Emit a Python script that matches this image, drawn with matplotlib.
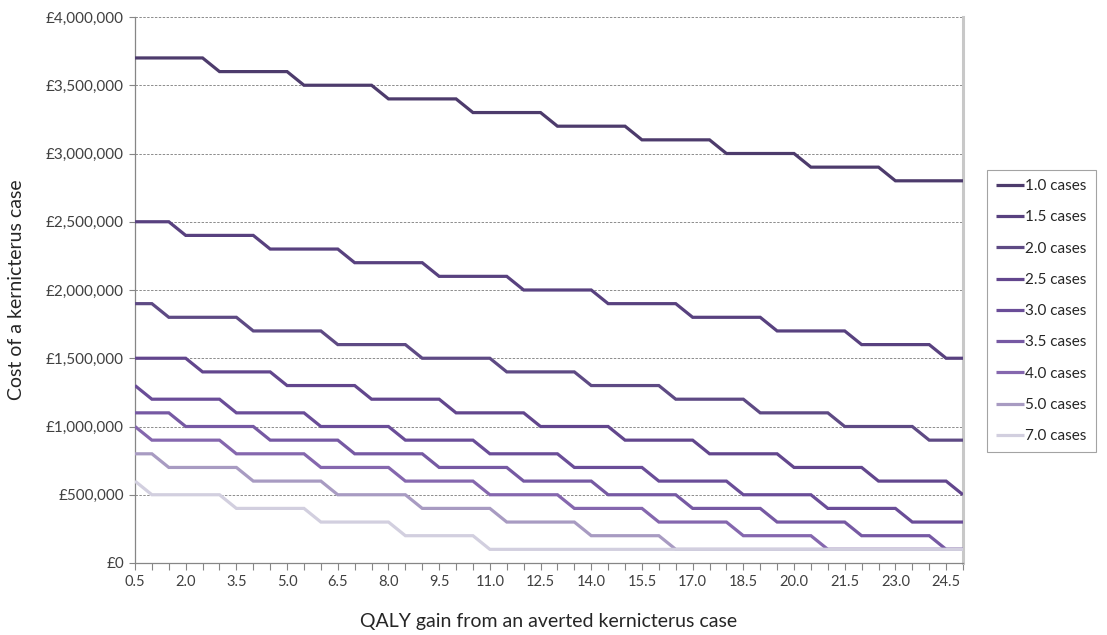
import matplotlib
matplotlib.use("Agg")
import matplotlib.pyplot as plt
from matplotlib.ticker import FuncFormatter, MultipleLocator

plt.rcParams["font.family"] = ["Lato", "DejaVu Sans"]

# QALY gain from an averted case (category axis)
qaly = [0.5 * k for k in range(1, 51)]

# Cost of a kernicterus case (GBP), one list per number of cases averted
cost_1_0 = [3700000] * 5 + [3600000] * 5 + [3500000] * 5 + [3400000] * 5 + [3300000] * 5 \
    + [3200000] * 5 + [3100000] * 5 + [3000000] * 5 + [2900000] * 5 + [2800000] * 5
cost_1_5 = [2500000] * 3 + [2400000] * 5 + [2300000] * 5 + [2200000] * 5 + [2100000] * 5 \
    + [2000000] * 5 + [1900000] * 5 + [1800000] * 5 + [1700000] * 5 + [1600000] * 5 + [1500000] * 2
cost_2_0 = [1900000] * 2 + [1800000] * 5 + [1700000] * 5 + [1600000] * 5 + [1500000] * 5 \
    + [1400000] * 5 + [1300000] * 5 + [1200000] * 5 + [1100000] * 5 + [1000000] * 5 + [900000] * 3
cost_2_5 = [1500000] * 4 + [1400000] * 5 + [1300000] * 5 + [1200000] * 5 + [1100000] * 5 \
    + [1000000] * 5 + [900000] * 5 + [800000] * 5 + [700000] * 5 + [600000] * 5 + [500000] * 1
cost_3_0 = [1300000] * 1 + [1200000] * 5 + [1100000] * 5 + [1000000] * 5 + [900000] * 5 \
    + [800000] * 5 + [700000] * 5 + [600000] * 5 + [500000] * 5 + [400000] * 5 + [300000] * 4
cost_3_5 = [1100000] * 3 + [1000000] * 5 + [900000] * 5 + [800000] * 5 + [700000] * 5 \
    + [600000] * 5 + [500000] * 5 + [400000] * 5 + [300000] * 5 + [200000] * 5 + [100000] * 2
cost_4_0 = [1000000] * 1 + [900000] * 5 + [800000] * 5 + [700000] * 5 + [600000] * 5 \
    + [500000] * 5 + [400000] * 5 + [300000] * 5 + [200000] * 5 + [100000] * 9
cost_5_0 = [800000] * 2 + [700000] * 5 + [600000] * 5 + [500000] * 5 + [400000] * 5 \
    + [300000] * 5 + [200000] * 5 + [100000] * 18
cost_7_0 = [600000] * 1 + [500000] * 5 + [400000] * 5 + [300000] * 5 + [200000] * 5 \
    + [100000] * 29

series_labels = ["1.0 cases", "1.5 cases", "2.0 cases", "2.5 cases", "3.0 cases",
                 "3.5 cases", "4.0 cases", "5.0 cases", "7.0 cases"]
series_values = [cost_1_0, cost_1_5, cost_2_0, cost_2_5, cost_3_0,
                 cost_3_5, cost_4_0, cost_5_0, cost_7_0]
series_colors = ["#4d3b6c", "#58417f", "#5e4a84", "#62468d", "#6a4d98",
                 "#7659a3", "#8567ae", "#a89bc2", "#d2cfdf"]

fig = plt.figure(figsize=(11.07, 6.35), dpi=100)
ax = fig.add_axes([135 / 1107, 1 - 563 / 635, 828 / 1107, 546 / 635])

positions = list(range(len(qaly)))
for vals, lab, col in zip(series_values, series_labels, series_colors):
    ax.plot(positions, vals, color=col, lw=2.3, label=lab,
            solid_joinstyle="miter", solid_capstyle="butt", zorder=3)

ax.set_xlim(0, len(qaly) - 1)
ax.set_ylim(0, 4000000)

# y axis
ax.yaxis.set_major_locator(MultipleLocator(500000))
ax.yaxis.set_major_formatter(FuncFormatter(lambda v, p: "£{:,.0f}".format(v)))
ax.grid(axis="y", color="#8c8c8c", lw=0.7, linestyle=(0, (2.5, 1.5)), zorder=1)
ax.set_axisbelow(True)

# x axis: a tick mark for every category, labels every third one
ax.set_xticks(positions)
ax.set_xticklabels([f"{q:.1f}" if i % 3 == 0 else "" for i, q in enumerate(qaly)])

ax.tick_params(axis="y", direction="out", length=4, width=0.8, color="#868686",
               labelsize=11, labelcolor="#404040", pad=4)
ax.tick_params(axis="x", direction="out", length=5, width=0.8, color="#868686",
               labelsize=10.5, labelcolor="#404040", pad=4)

for side in ("left", "bottom"):
    ax.spines[side].set_color("#868686")
    ax.spines[side].set_linewidth(0.9)
ax.spines["top"].set_visible(False)
ax.spines["right"].set_color("#c8c8c8")
ax.spines["right"].set_linewidth(2.2)

fig.text(17 / 1107, 1 - 290 / 635, "Cost of a kernicterus case", rotation=90,
         ha="center", va="center", fontsize=14, color="#262626")
fig.text(549 / 1107, 1 - 622 / 635, "QALY gain from an averted kernicterus case",
         ha="center", va="center", fontsize=14, color="#262626")

leg = ax.legend(loc="upper left", bbox_to_anchor=(987 / 1107, 1 - 170 / 635),
                bbox_transform=fig.transFigure, frameon=True, fancybox=False,
                edgecolor="#8c8c8c", fontsize=11, handlelength=1.8,
                handletextpad=0.1, labelspacing=1.13, borderpad=0.6,
                borderaxespad=0)
leg.get_frame().set_linewidth(0.8)
for t in leg.get_texts():
    t.set_color("#262626")

fig.savefig("out.png", dpi=100)
